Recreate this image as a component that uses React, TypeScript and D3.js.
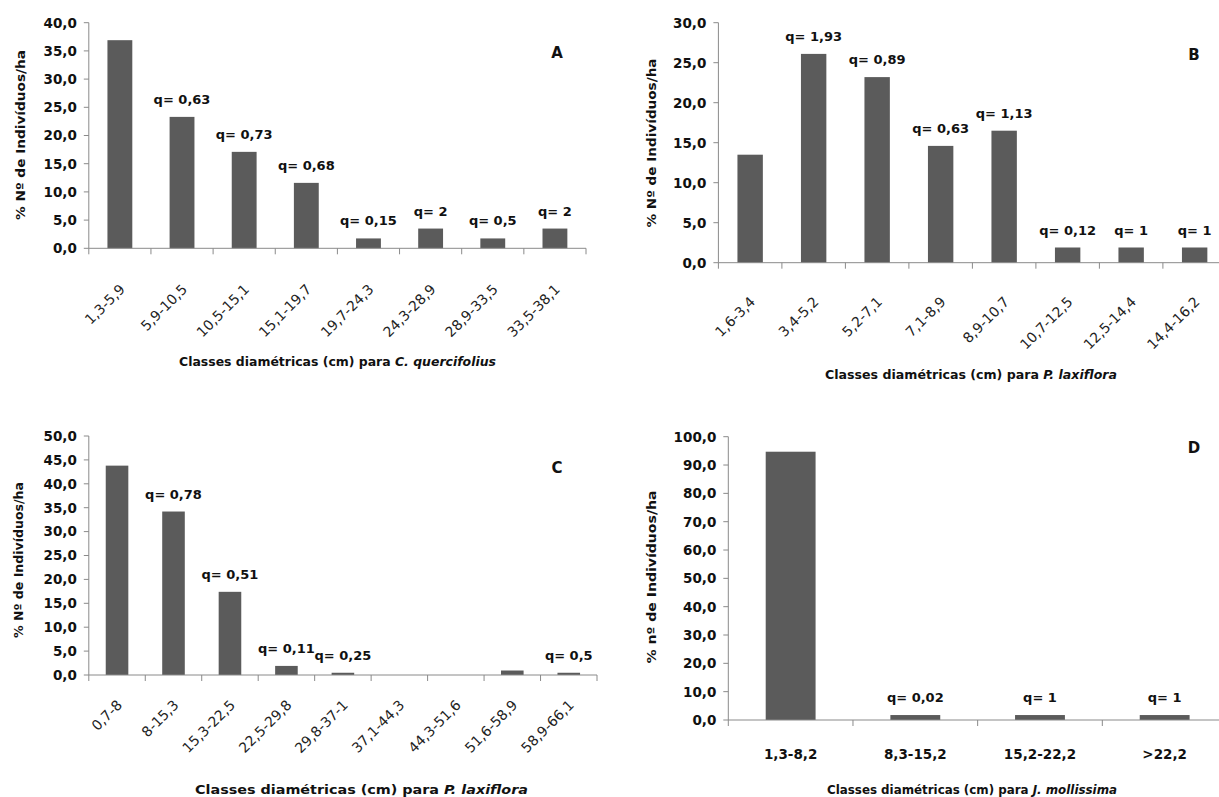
import React from "react";
import * as d3 from "d3";

// Diameter-class distributions (% of individuals per hectare) and q quotients
const classesA = ["1,3-5,9", "5,9-10,5", "10,5-15,1", "15,1-19,7", "19,7-24,3", "24,3-28,9", "28,9-33,5", "33,5-38,1"];
const valuesA = [36.9, 23.3, 17.1, 11.6, 1.75, 3.5, 1.75, 3.5];
const qA = ["", "0,63", "0,73", "0,68", "0,15", "2", "0,5", "2"];

const classesB = ["1,6-3,4", "3,4-5,2", "5,2-7,1", "7,1-8,9", "8,9-10,7", "10,7-12,5", "12,5-14,4", "14,4-16,2"];
const valuesB = [13.5, 26.1, 23.2, 14.6, 16.5, 1.9, 1.9, 1.9];
const qB = ["", "1,93", "0,89", "0,63", "1,13", "0,12", "1", "1"];

const classesC = ["0,7-8", "8-15,3", "15,3-22,5", "22,5-29,8", "29,8-37-1", "37,1-44,3", "44,3-51,6", "51,6-58,9", "58,9-66,1"];
const valuesC = [43.8, 34.2, 17.4, 1.9, 0.47, 0, 0, 0.94, 0.47];
const qC = ["", "0,78", "0,51", "0,11", "0,25", "", "", "", "0,5"];

const classesD = ["1,3-8,2", "8,3-15,2", "15,2-22,2", ">22,2"];
const valuesD = [94.7, 1.75, 1.75, 1.75];
const qD = ["", "0,02", "1", "1"];

const FONT = "'DejaVu Sans', Verdana, sans-serif";
const BAR = "#5b5b5b";
const AXIS = "#8a8a8a";

const fmt = (d: number) => d.toFixed(1).replace(".", ",");

type PanelProps = {
  letter: string;
  letterPos: [number, number];
  classes: string[];
  values: number[];
  q: string[];
  yMax: number;
  yStep: number;
  x0: number;
  x1: number;
  yTop: number;
  yBottom: number;
  rotated: boolean;
  labelDrop: number;
  yTitle: string;
  yTitlePos: [number, number];
  yTitleLen: number;
  species: string;
  xTitlePos: [number, number];
  xTitleLen: number;
};

function Panel(p: PanelProps) {
  const x = d3
    .scaleBand<string>()
    .domain(p.classes)
    .range([p.x0, p.x1])
    .paddingInner(0.6)
    .paddingOuter(0.3);
  const y = d3.scaleLinear().domain([0, p.yMax]).range([p.yBottom, p.yTop]);
  const yTicks = d3.range(0, p.yMax + p.yStep / 2, p.yStep);
  const step = x.step();
  const bounds = d3.range(0, p.classes.length + 1).map((i) => p.x0 + i * step);

  return (
    <g fontFamily={FONT}>
      {/* y axis */}
      <line x1={p.x0} x2={p.x0} y1={y(p.yMax)} y2={y(0)} stroke={AXIS} strokeWidth={1} />
      {yTicks.map((t) => (
        <g key={"yt" + t}>
          <line x1={p.x0 - 5} x2={p.x0} y1={y(t)} y2={y(t)} stroke={AXIS} strokeWidth={1} />
          <text
            x={p.x0 - 12}
            y={y(t)}
            dy="0.36em"
            textAnchor="end"
            fontSize={13.5}
            fontWeight="bold"
            fill="#111"
          >
            {fmt(t)}
          </text>
        </g>
      ))}

      {/* bars */}
      {p.classes.map((c, i) => (
        <rect
          key={"b" + c}
          x={x(c)}
          y={y(p.values[i])}
          width={x.bandwidth()}
          height={y(0) - y(p.values[i])}
          fill={BAR}
        />
      ))}

      {/* x axis */}
      <line x1={p.x0} x2={p.x1} y1={y(0)} y2={y(0)} stroke={AXIS} strokeWidth={1} />
      {bounds.map((bx, i) => (
        <line key={"xt" + i} x1={bx} x2={bx} y1={y(0)} y2={y(0) + 6} stroke={AXIS} strokeWidth={1} />
      ))}
      {p.classes.map((c) => {
        const cx = (x(c) as number) + x.bandwidth() / 2;
        return p.rotated ? (
          <text
            key={"xl" + c}
            transform={`translate(${cx + 6},${y(0) + p.labelDrop}) rotate(-45)`}
            textAnchor="end"
            fontSize={14}
            fill="#222"
          >
            {c}
          </text>
        ) : (
          <text
            key={"xl" + c}
            x={cx}
            y={y(0) + 39}
            textAnchor="middle"
            fontSize={13.5}
            fontWeight="bold"
            fill="#111"
          >
            {c}
          </text>
        );
      })}

      {/* q quotient labels */}
      {p.classes.map((c, i) =>
        p.q[i] ? (
          <text
            key={"q" + c}
            x={(x(c) as number) + x.bandwidth() / 2}
            y={y(p.values[i]) - 13}
            textAnchor="middle"
            fontSize={13}
            fontWeight="bold"
            fill="#111"
          >
            {"q= " + p.q[i]}
          </text>
        ) : null
      )}

      {/* panel letter */}
      <text
        x={p.letterPos[0]}
        y={p.letterPos[1]}
        dy="0.36em"
        textAnchor="middle"
        fontSize={15}
        fontWeight="bold"
        fill="#111"
      >
        {p.letter}
      </text>

      {/* axis titles */}
      <text
        transform={`translate(${p.yTitlePos[0]},${p.yTitlePos[1]}) rotate(-90)`}
        textAnchor="middle"
        dy="0.36em"
        fontSize={13}
        fontWeight="bold"
        fill="#111"
        textLength={p.yTitleLen}
        lengthAdjust="spacingAndGlyphs"
      >
        {p.yTitle}
      </text>
      <text
        x={p.xTitlePos[0]}
        y={p.xTitlePos[1]}
        dy="0.36em"
        textAnchor="middle"
        fontSize={12}
        fontWeight="bold"
        fill="#111"
        textLength={p.xTitleLen}
        lengthAdjust="spacingAndGlyphs"
      >
        {"Classes diamétricas (cm) para "}
        <tspan fontStyle="italic">{p.species}</tspan>
      </text>
    </g>
  );
}

export default function App() {
  return (
    <div style={{ position: "absolute", left: 0, top: 0 }}>
      <svg width={1219} height={797} viewBox="0 0 1219 797" style={{ display: "block", background: "#fff" }}>
        <Panel
          letter="A"
          letterPos={[557, 53]}
          classes={classesA}
          values={valuesA}
          q={qA}
          yMax={40}
          yStep={5}
          x0={88.8}
          x1={586}
          yTop={22.7}
          yBottom={248.3}
          rotated={true}
          labelDrop={42}
          yTitle="% Nº de Indivíduos/ha"
          yTitlePos={[20, 135]}
          yTitleLen={170}
          species="C. quercifolius"
          xTitlePos={[337.5, 362]}
          xTitleLen={317}
        />
        <Panel
          letter="B"
          letterPos={[1194, 55]}
          classes={classesB}
          values={valuesB}
          q={qB}
          yMax={30}
          yStep={5}
          x0={718.4}
          x1={1226.4}
          yTop={22.7}
          yBottom={262.7}
          rotated={true}
          labelDrop={40}
          yTitle="% Nº de Indivíduos/ha"
          yTitlePos={[651, 143]}
          yTitleLen={169}
          species="P. laxiflora"
          xTitlePos={[971, 375]}
          xTitleLen={292}
        />
        <Panel
          letter="C"
          letterPos={[557, 468]}
          classes={classesC}
          values={valuesC}
          q={qC}
          yMax={50}
          yStep={5}
          x0={88.8}
          x1={597}
          yTop={436}
          yBottom={675}
          rotated={true}
          labelDrop={31}
          yTitle="% Nº de Indivíduos/ha"
          yTitlePos={[18, 560]}
          yTitleLen={156}
          species="P. laxiflora"
          xTitlePos={[361.5, 790]}
          xTitleLen={333}
        />
        <Panel
          letter="D"
          letterPos={[1194, 448]}
          classes={classesD}
          values={valuesD}
          q={qD}
          yMax={100}
          yStep={10}
          x0={728.3}
          x1={1227}
          yTop={436.7}
          yBottom={720}
          rotated={false}
          labelDrop={0}
          yTitle="% nº de Indivíduos/ha"
          yTitlePos={[651, 577]}
          yTitleLen={173}
          species="J. mollissima"
          xTitlePos={[972, 790]}
          xTitleLen={290}
        />
      </svg>
    </div>
  );
}
